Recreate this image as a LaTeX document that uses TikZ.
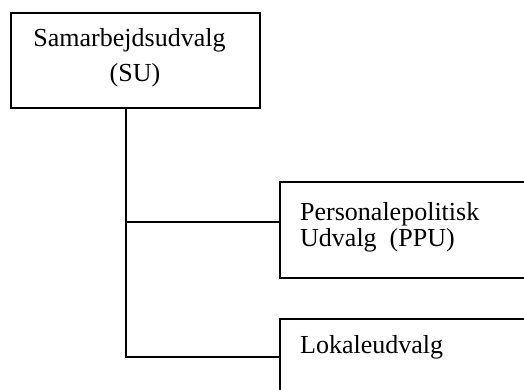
\documentclass[tikz,border=0pt]{standalone}
\usepackage{fontspec}
\setmainfont{Liberation Serif}
\begin{document}
\begin{tikzpicture}[x=1pt,y=-1pt,
  box/.style={draw, line width=1.6pt, rectangle, inner sep=0pt},
  lbl/.style={font=\fontsize{26}{30}\selectfont, inner sep=0pt, anchor=base west},
  conn/.style={line width=1.6pt}]
\useasboundingbox (0,0) rectangle (524,390);
\clip (0,0) rectangle (524,390);
\fill[white] (0,0) rectangle (524,390);
% boxes
\node[box, minimum width=249pt, minimum height=95pt] (su) at (135.5,60.5) {};
\node[box, minimum width=300pt, minimum height=96pt, anchor=north west] (ppu) at (279,181) {};
\node[box, minimum width=300pt, minimum height=120pt, anchor=north west] (lok) at (279,318) {};
% texts
\node[lbl, anchor=base] (sut1) at (129.5,47) {Samarbejdsudvalg};
\node[lbl, anchor=base] (sut2) at (135,82) {(SU)};
\node[lbl] (ppt1) at (300,220) {Personalepolitisk};
\node[lbl] (ppt2) at (300,246) {Udvalg\ \ (PPU)};
\node[lbl] (lokt) at (300,353) {Lokaleudvalg};
% connectors
\coordinate (tx) at (126,0);
\coordinate (ya) at (0,222);
\coordinate (yb) at (0,357);
\draw[conn] (su.south -| tx) -- (tx |- yb) -- (lok.west |- yb);
\draw[conn] (tx |- ya) -- (ppu.west |- ya);
\end{tikzpicture}
\end{document}
